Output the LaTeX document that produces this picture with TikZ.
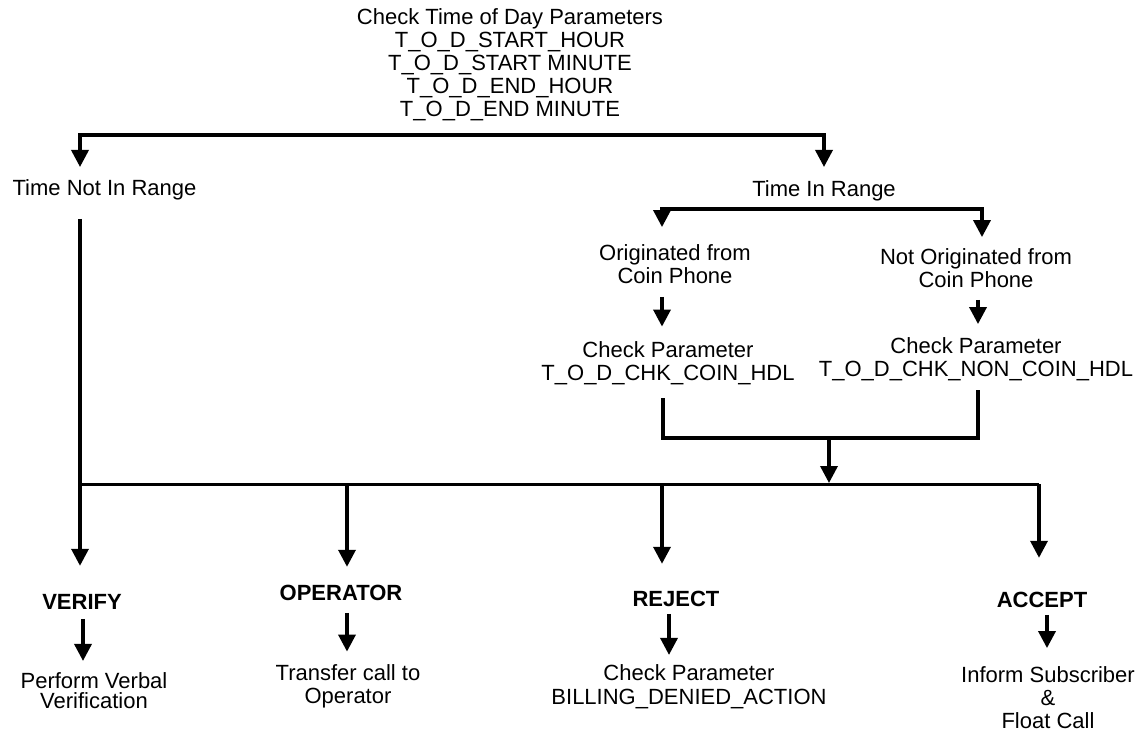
\documentclass[tikz,border=0pt]{standalone}
\usepackage{fontspec}
\setmainfont{Liberation Sans}
\usetikzlibrary{arrows.meta}
\begin{document}
\begin{tikzpicture}[x=1pt,y=-1pt,
  >={Triangle[width=17pt,length=17pt]},
  txt/.style={inner sep=0pt, outer sep=0pt, align=center,
    font=\fontsize{22}{23}\selectfont,
    execute at begin node=\strut, execute at end node=\strut},
  lbl/.style={txt, font=\fontsize{22}{23}\selectfont\bfseries},
  conn/.style={line width=3.5pt, line join=miter},
  arr/.style={conn, ->},
  bus/.style={line width=3pt}]
\useasboundingbox (0,0) rectangle (1140,735);
% text nodes
\node[txt] (top) at (510,65.8) {Check Time of Day Parameters\\T\_O\_D\_START\_HOUR\\T\_O\_D\_START MINUTE\\T\_O\_D\_END\_HOUR\\T\_O\_D\_END MINUTE};
\node[txt] (tnr) at (104.5,191.3) {Time Not In Range};
\node[txt] (tir) at (824,192.3) {Time In Range};
\node[txt] (orig) at (675,267.8) {Originated from\\Coin Phone};
\node[txt] (notorig) at (976,271.8) {Not Originated from\\Coin Phone};
\node[txt] (chkcoin) at (668,364.3) {Check Parameter\\T\_O\_D\_CHK\_COIN\_HDL};
\node[txt] (chknon) at (976,360.8) {Check Parameter\\T\_O\_D\_CHK\_NON\_COIN\_HDL};
\node[lbl] (verify) at (82,605.3) {VERIFY};
\node[txt, font=\fontsize{22}{20}\selectfont] (perform) at (94,693.9) {Perform Verbal\\Verification};
\node[lbl] (operator) at (341,596.3) {OPERATOR};
\node[txt] (transfer) at (348,687.3) {Transfer call to\\Operator};
\node[lbl] (reject) at (676,602.3) {REJECT};
\node[txt, font=\fontsize{22}{24}\selectfont] (billing) at (689,688.3) {Check Parameter\\BILLING\_DENIED\_ACTION};
\node[lbl] (accept) at (1042,603.3) {ACCEPT};
\node[txt, execute at end node={}] (inform) at (1048,701.3) {Inform Subscriber\\\&\\Float Call};
% junction coordinates
\coordinate (b1L) at (80,135);
\coordinate (b1R) at (824,135);
\coordinate (b2L) at (662,209);
\coordinate (b2R) at (982,209);
\coordinate (m1L) at (663,438);
\coordinate (m1R) at (978,438);
\coordinate (m1C) at (829,438);
\coordinate (busC) at (829,483);
\coordinate (busL) at (80,484);
\coordinate (busO) at (347,484);
\coordinate (busJ) at (662,484);
\coordinate (busR) at (1039,484);
% connectors
\draw[conn, <->, shorten <=12.8pt, shorten >=13.8pt] (b1L |- tnr.north) -- (b1L) -- (b1R) -- (tir.north);
\draw[conn, <->, shorten <=17.8pt, shorten >=11.8pt] (b2L |- orig.north) -- (b2L) -- (b2R) -- (b2R |- notorig.north);
\draw[arr, shorten <=6.2pt, shorten >=14.8pt] (orig.south -| b2L) -- (chkcoin.north -| b2L);
\draw[arr, shorten <=5.2pt, shorten >=13.8pt] (notorig.south -| m1R) -- (chknon.north -| m1R);
\draw[conn, shorten <=11pt, shorten >=6pt] (chkcoin.south -| m1L) -- (m1L) -- (m1R) -- (chknon.south -| m1R);
\draw[arr] (m1C) -- (busC);
\draw[bus] (busL) -- (busR);
\draw[arr, shorten <=16pt, shorten >=28pt] (tnr.south -| busL) -- (verify.north -| busL);
\draw[arr, shorten >=18pt] (busO) -- (busO |- operator.north);
\draw[arr, shorten >=27pt] (busJ) -- (busJ |- reject.north);
\draw[arr, shorten >=34pt] (busR) -- (busR |- accept.north);
% second-level arrows
\draw[arr, shorten <=2pt, shorten >=12pt] ([xshift=1pt]verify.south) -- ([xshift=1pt]verify.south |- perform.north);
\draw[arr, shorten <=5pt, shorten >=12.8pt] (busO |- operator.south) -- (busO |- transfer.north);
\draw[arr, shorten <=0pt, shorten >=9.8pt] ([xshift=-7pt]reject.south) -- ([xshift=-7pt]reject.south |- billing.north);
\draw[arr, shorten <=0pt, shorten >=18.8pt] ([xshift=5pt]accept.south) -- ([xshift=5pt]accept.south |- inform.north);
\end{tikzpicture}
\end{document}
